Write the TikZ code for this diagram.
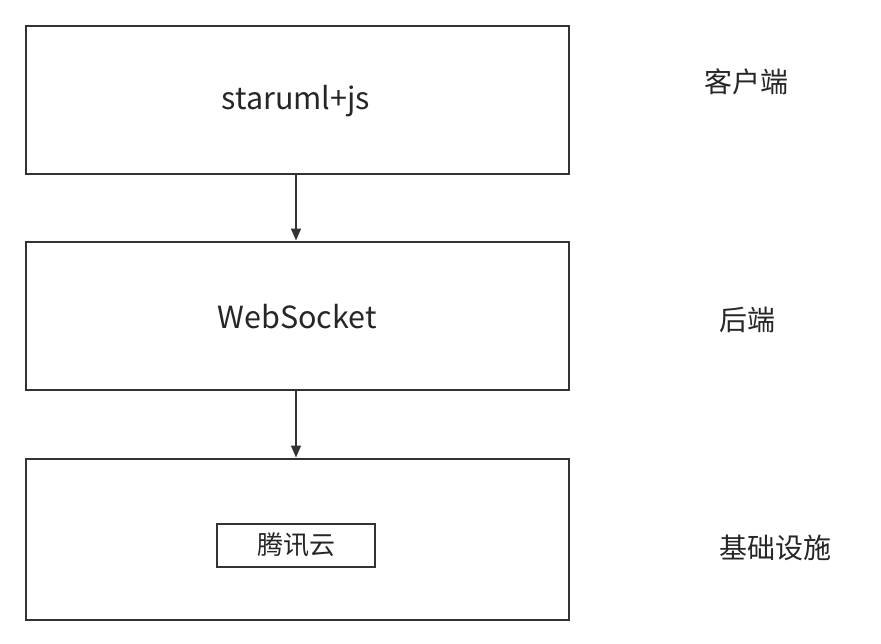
\documentclass[tikz,border=0pt]{standalone}
\usepackage{fontspec}
\setmainfont{Noto Sans CJK SC}
\usetikzlibrary{arrows.meta}
\tikzset{
  layer/.style={draw=black!80, line width=2pt},
  lbl/.style={font=\fontsize{28}{32}\selectfont, text=black!85},
  latin/.style={font=\fontsize{30.5}{34}\selectfont, text=black!85},
  conn/.style={draw=black!80, line width=1.6pt, -{Triangle[length=12pt,width=10pt]}}
}
\begin{document}
\begin{tikzpicture}[x=1pt,y=-1pt]
\useasboundingbox (0,0) rectangle (881,643);
\fill[white] (0,0) rectangle (881,643);
\node[layer, minimum width=543pt, minimum height=148pt, anchor=north west] (b1) at (24.5,24.5) {};
\node[layer, minimum width=543pt, minimum height=148pt, anchor=north west] (b2) at (24.5,240.5) {};
\node[layer, minimum width=543pt, minimum height=161pt, anchor=north west] (b3) at (24.5,457.5) {};
\node[latin] (t1) at (296,101) {staruml+js};
\node[latin] (t2) at (297,317) {WebSocket};
\node[draw=black!80, line width=2pt, minimum width=158pt, minimum height=43pt, font=\fontsize{26}{30}\selectfont, text=black!85] (tx) at (296,545) {腾讯云};
\node[lbl] (l1) at (746,82) {客户端};
\node[lbl] (l2) at (747,320) {后端};
\node[lbl] (l3) at (775,548) {基础设施};
\draw[conn] (b1.south -| t1) -- (b2.north -| t1);
\draw[conn] (b2.south -| t1) -- (b3.north -| t1);
\end{tikzpicture}
\end{document}
